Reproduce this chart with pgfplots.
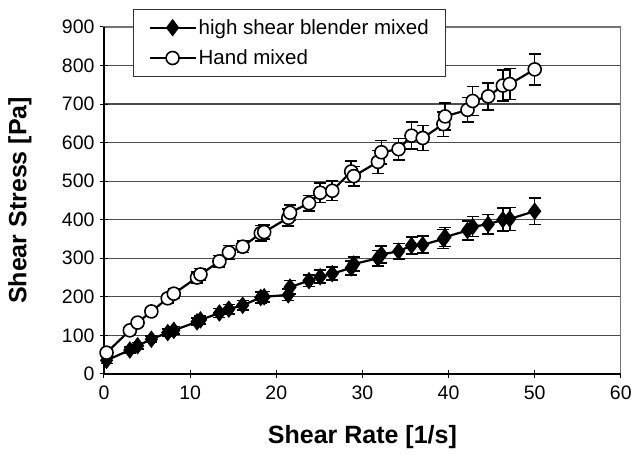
\documentclass[border=0pt]{standalone}
\usepackage{fontspec}
\setmainfont{Liberation Sans}
\usepackage{pgfplots}
\pgfplotsset{compat=1.18}

\begin{document}
\begin{tikzpicture}
\begin{axis}[
  scale only axis, width=517pt, height=347pt,
  xmin=0, xmax=60, ymin=0, ymax=900,
  xtick={0,10,...,60}, ytick={0,100,...,900},
  xtick pos=left, ytick pos=left,
  tick align=center, major tick length=8pt,
  tick style={black, line width=1pt},
  axis line style={draw=black!55, line width=1.2pt},
  ymajorgrids, major grid style={black!70, line width=1.2pt},
  /pgf/number format/assume math mode=true,
  ticklabel style={font=\fontsize{19.5}{22}\selectfont},
  xticklabel style={yshift=-4pt},
  yticklabel style={xshift=-2pt},
  xlabel={Shear Rate [1/s]},
  ylabel={Shear Stress [Pa]},
  xlabel style={font=\fontsize{25}{30}\selectfont\bfseries, at={(axis description cs:0.5,-0.182)}, anchor=center},
  ylabel style={font=\fontsize{25}{30}\selectfont\bfseries, at={(axis description cs:-0.1625,0.5)}, anchor=center, rotate=0},
  legend cell align=left,
  legend style={at={(rel axis cs:0.0561,1.0519)}, anchor=north west,
    font=\fontsize{20.5}{24}\selectfont, draw=black!80, line width=1pt, fill=white,
    inner xsep=15pt, inner ysep=8pt, row sep=10pt,
    nodes={inner sep=2pt}},
  legend image code/.code={
    \draw[mark repeat=2, mark phase=2, #1] plot coordinates {(0pt,0pt) (23pt,0pt) (46pt,0pt)};
  },
  clip=false,
]
% high shear blender mixed
\addplot[black, line width=2.2pt, mark=diamond*, mark size=8pt,
  mark options={fill=black, solid, line width=1pt},
  error bars/.cd, y dir=both, y explicit,
  error bar style={black, line width=1.6pt},
  error mark options={rotate=90, mark size=6pt, line width=1.6pt, black}]
  table[x=x, y=y, y error=e] {
x y e
0.3 35 8
3.0 62 8
3.9 73 8
5.5 90 8
7.4 107 10
8.1 113 10
10.8 135 10
11.2 140 10
13.4 158 12
14.5 168 12
16.1 178 12
18.2 198 14
18.6 200 14
21.4 205 15
21.6 225 17
23.8 242 15
25.1 252 17
26.5 260 17
28.7 275 18
29.0 285 18
31.8 300 20
32.2 310 22
34.2 318 20
35.7 333 22
37.0 335 22
39.4 350 25
39.6 355 25
42.2 372 25
42.8 382 26
44.6 388 25
46.3 400 30
47.1 402 30
50.0 422 34
};
\addlegendentry{high shear blender mixed}

% hand mixed
\addplot[black, line width=2.2pt, mark=*, mark size=6.5pt,
  mark options={fill=white, solid, line width=1.6pt},
  error bars/.cd, y dir=both, y explicit,
  error bar style={black, line width=1.6pt},
  error mark options={rotate=90, mark size=6pt, line width=1.6pt, black}]
  table[x=x, y=y, y error=e] {
x y e
0.3 55 8
3.0 113 10
3.9 133 10
5.5 162 10
7.4 196 12
8.1 208 12
10.8 250 15
11.2 258 15
13.4 292 15
14.5 315 18
16.1 330 15
18.2 365 20
18.6 368 18
21.4 405 22
21.6 418 20
23.8 443 20
25.1 470 25
26.5 475 25
28.7 525 28
29.0 513 25
31.8 550 30
32.2 575 30
34.2 583 28
35.7 618 35
37.0 612 32
39.4 648 32
39.6 668 35
42.2 685 32
42.8 708 38
44.6 720 35
46.3 748 40
47.1 752 40
50.0 790 40
};
\addlegendentry{Hand mixed}

% solid left and bottom axis lines
\draw[black, line width=1.5pt] (rel axis cs:0,1) -- (rel axis cs:0,0) -- (rel axis cs:1,0);
\coordinate (bl) at (rel axis cs:-0.2012,-0.2536);
\coordinate (tr) at (rel axis cs:1.0271,1.0778);
\end{axis}
\path (bl) rectangle (tr);
\end{tikzpicture}
\end{document}
